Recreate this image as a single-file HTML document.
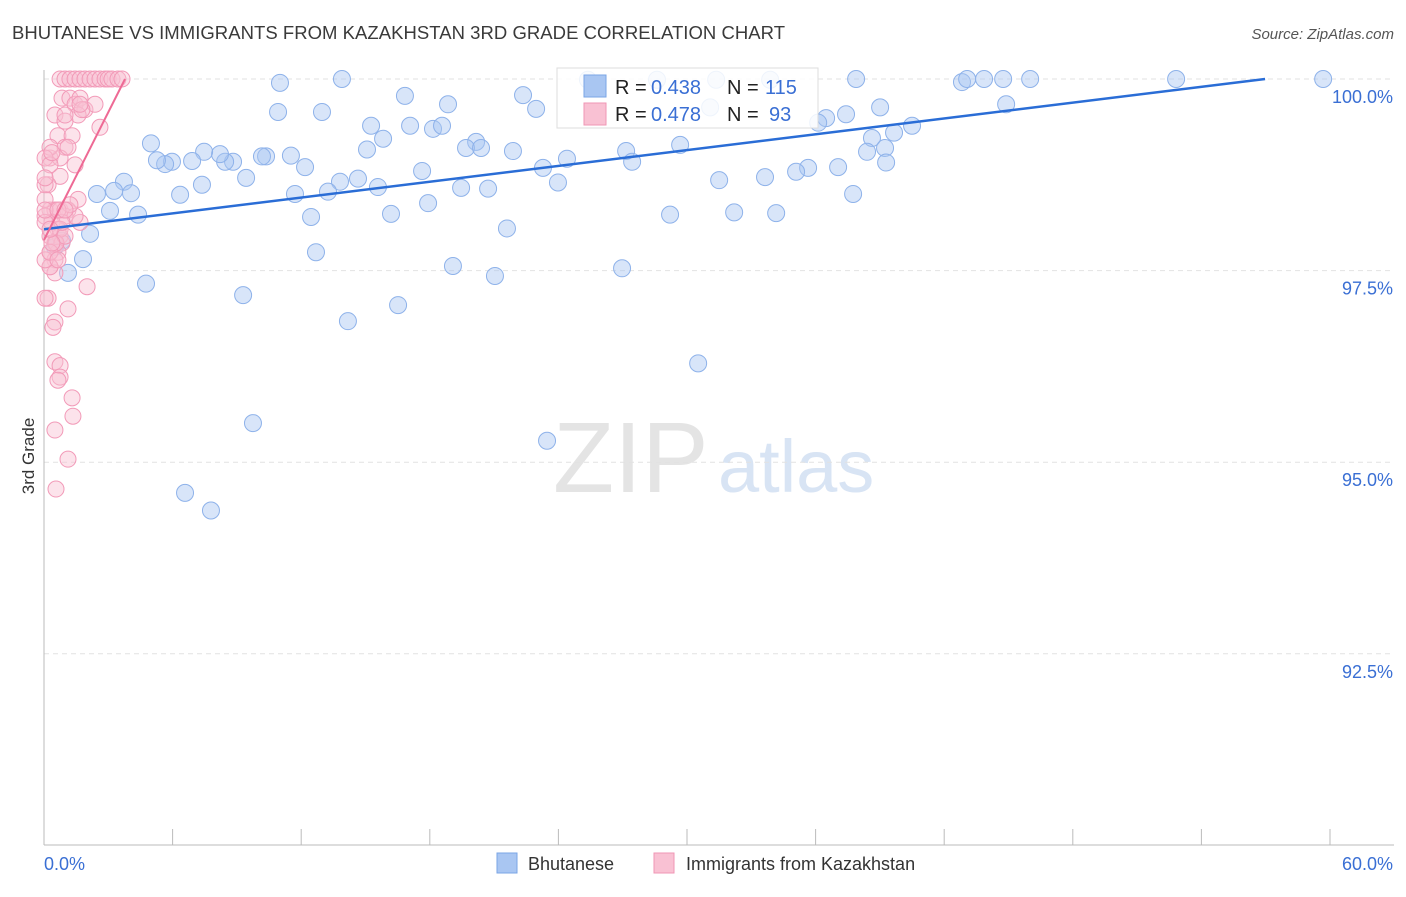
<!DOCTYPE html>
<html><head><meta charset="utf-8"><style>
body{margin:0;background:#fff;font-family:"Liberation Sans",sans-serif;}
svg text{font-family:"Liberation Sans",sans-serif;}
</style></head><body>
<svg id="chart" width="1406" height="892">
<text x="12" y="39" font-size="18.5" fill="#3a3a3a" textLength="773">BHUTANESE VS IMMIGRANTS FROM KAZAKHSTAN 3RD GRADE CORRELATION CHART</text>
<text x="1394" y="39" font-size="15" fill="#555" text-anchor="end" font-style="italic">Source: ZipAtlas.com</text>
<text x="34" y="456" font-size="17" fill="#333" transform="rotate(-90 34 456)" text-anchor="middle">3rd Grade</text>
<text x="553" y="492" font-size="100" fill="#e4e4e4" font-family="Liberation Serif">ZIP</text>
<text x="718" y="492" font-size="74" fill="#d8e4f4">atlas</text>
<g id="grid"></g><g id="axes"></g><g id="pts"></g><g id="lines"></g>
<g>
<rect x="557" y="68" width="261" height="60" fill="#fff" fill-opacity="0.85" stroke="#ddd"/>
<rect x="584" y="75" width="22" height="22" fill="#a9c6f2" stroke="#7aa5e6"/>
<rect x="584" y="103" width="22" height="22" fill="#f9c1d3" stroke="#f096b5"/>
<text x="615" y="94" font-size="20" fill="#222">R =</text><text x="651" y="94" font-size="20" fill="#3a6fd4">0.438</text>
<text x="727" y="94" font-size="20" fill="#222">N =</text><text x="765" y="94" font-size="20" fill="#3a6fd4">115</text>
<text x="615" y="121" font-size="20" fill="#222">R =</text><text x="651" y="121" font-size="20" fill="#3a6fd4">0.478</text>
<text x="727" y="121" font-size="20" fill="#222">N =</text><text x="769" y="121" font-size="20" fill="#3a6fd4">93</text>
</g>
<g>
<rect x="497" y="853" width="20" height="20" fill="#a9c6f2" stroke="#7aa5e6"/>
<text x="528" y="870" font-size="18" fill="#333">Bhutanese</text>
<rect x="654" y="853" width="20" height="20" fill="#f9c1d3" stroke="#f096b5"/>
<text x="686" y="870" font-size="18" fill="#333">Immigrants from Kazakhstan</text>
</g>
</svg>
<script>
const yTicks=[100,97.5,95,92.5];
const yTickLabels=["100.0%","97.5%","95.0%","92.5%"];
const blueX=[25.38,28.60,31.36,33.88,37.89,42.83,43.07,43.86,44.75,46.01,52.82,59.68,13.90,11.01,16.84,22.35,18.85,22.96,10.92,12.97,44.89,39.01,37.42,36.49,36.12,40.50,39.66,38.63,39.24,38.40,4.99,15.26,17.08,18.15,18.57,20.16,19.69,20.39,21.88,15.82,15.07,11.52,10.36,10.17,8.82,8.45,8.21,7.47,6.91,5.97,5.65,5.27,12.18,17.64,24.40,23.28,27.16,27.44,29.68,31.08,39.29,37.05,35.65,35.09,33.64,31.50,23.98,19.46,20.72,15.58,14.65,13.81,13.25,11.71,9.43,7.37,6.35,3.73,4.06,3.27,2.47,3.08,4.39,37.75,32.20,34.16,29.21,17.92,16.19,12.46,21.60,2.15,0.84,0.51,1.82,1.12,12.69,19.08,26.97,21.04,4.76,9.29,16.52,14.18,30.52,9.75,23.47,6.58,7.79];
const blueY=[99.99,99.99,99.99,99.99,100,99.96,100,100,100,100,100,100,100,99.95,99.78,99.79,99.67,99.61,99.57,99.57,99.67,99.63,99.54,99.49,99.43,99.39,99.30,99.23,99.10,99.05,99.16,99.39,99.39,99.35,99.39,99.18,99.10,99.10,99.06,99.22,99.08,99.00,98.99,98.99,98.92,98.92,99.02,99.05,98.93,98.92,98.89,98.94,98.85,98.80,98.96,98.84,99.06,98.92,99.14,99.63,98.91,98.85,98.84,98.79,98.72,98.68,98.65,98.58,98.57,98.59,98.70,98.66,98.53,98.50,98.71,98.62,98.49,98.66,98.51,98.54,98.50,98.28,98.23,98.50,98.26,98.25,98.23,98.38,98.24,98.20,98.05,97.98,97.89,97.81,97.65,97.47,97.74,97.56,97.53,97.43,97.33,97.18,97.05,96.84,96.29,95.51,95.28,94.60,94.37];
const pinkX=[0.75,0.98,1.21,1.45,1.68,1.91,2.15,2.38,2.61,2.85,2.99,3.17,3.45,3.64,0.84,1.21,1.45,1.68,1.91,2.38,0.51,1.59,1.77,2.61,0.65,1.31,0.98,0.28,0.75,1.45,0.75,0.19,1.59,0.28,0.51,0.75,1.12,0.05,0.98,0.37,1.68,0.65,0.28,0.75,0.51,0.84,0.28,0.65,0.51,0.28,0.51,2.01,0.19,1.12,0.51,0.42,0.51,0.75,0.75,0.65,1.31,1.35,0.51,1.12,0.56,1.68,0.28,0.05,0.05,0.05,0.98,0.75,1.45,0.28,0.98,0.05,0.28,0.05,0.56,0.98,0.05,0.37,1.21,0.84,0.05,0.28,0.65,0.05,0.37,0.28,0.98,0.65,1.12];
const pinkY=[100,100,100,100,100,100,100,100,100,100,100,100,100,100,99.75,99.75,99.67,99.75,99.60,99.67,99.53,99.53,99.60,99.37,99.26,99.26,99.11,98.97,98.97,98.88,98.73,98.62,98.43,98.29,98.29,98.29,98.29,98.21,98.21,98.13,98.13,98.04,97.95,97.95,97.86,97.86,97.74,97.74,97.64,97.55,97.47,97.29,97.14,97.00,96.83,96.76,96.31,96.26,96.11,96.07,95.84,95.60,95.42,95.04,94.65,99.67,99.11,98.43,98.62,98.97,99.45,98.04,98.21,97.55,99.53,98.13,98.88,97.64,97.86,97.95,98.29,99.04,98.36,98.13,98.71,97.74,98.29,97.14,97.86,98.04,98.29,97.64,99.11];
const blueLine=[[0,98.04],[56.97,100]];
const pinkLine=[[0,97.9],[3.78,100]];
const NS="http://www.w3.org/2000/svg";
const X0=44,X1=1330;
function xs(v){return X0+(v/60)*(X1-X0);}
function ys(v){return 79+(100-v)/2.5*191.6;}
function mk(tag,attrs,parent){const e=document.createElementNS(NS,tag);for(const k in attrs)e.setAttribute(k,attrs[k]);document.getElementById(parent).appendChild(e);return e;}
yTicks.forEach((t,i)=>{
 const l=mk('line',{x1:X0,x2:1394,y1:ys(t),y2:ys(t),stroke:'#e2e2e2','stroke-dasharray':'5,4'},'grid');
 
 
 const tx=mk('text',{x:1393,y:ys(t)+24,'font-size':18,fill:'#3a6fd4','text-anchor':'end'},'grid');
 tx.textContent=yTickLabels[i];
 
 
});
const ax=mk('line',{x1:X0,x2:X0,y1:70,y2:845,stroke:'#bbb'},'axes');


const bx=mk('line',{x1:X0,x2:1394,y1:845,y2:845,stroke:'#bbb'},'axes');


for(let i=0;i<=10;i++){
 const t=mk('line',{x1:xs(i*6),x2:xs(i*6),y1:829,y2:845,stroke:'#bbb'},'axes');
 
 
}
const xl0=mk('text',{x:44,y:870,'font-size':18,fill:'#3a6fd4'},'axes');xl0.textContent='0.0%';


const xl1=mk('text',{x:1393,y:870,'font-size':18,fill:'#3a6fd4','text-anchor':'end'},'axes');xl1.textContent='60.0%';


blueX.forEach((v,i)=>{
 const c=mk('circle',{cx:xs(v),cy:ys(blueY[i]),r:8.5,fill:'#a9c6f2','fill-opacity':0.45,stroke:'#8eb2ea','stroke-width':1},'pts');
 
 
});
pinkX.forEach((v,i)=>{
 const c=mk('circle',{cx:xs(v),cy:ys(pinkY[i]),r:8,fill:'#f9c1d3','fill-opacity':0.45,stroke:'#f29ab8','stroke-width':1},'pts');
 
 
});
const bl=mk('line',{x1:xs(blueLine[0][0]),y1:ys(blueLine[0][1]),x2:xs(blueLine[1][0]),y2:ys(blueLine[1][1]),stroke:'#2a6dd6','stroke-width':2.5},'lines');


const pl=mk('line',{x1:xs(pinkLine[0][0]),y1:ys(pinkLine[0][1]),x2:xs(pinkLine[1][0]),y2:ys(pinkLine[1][1]),stroke:'#ee6a95','stroke-width':2},'lines');


</script>
</body></html>
